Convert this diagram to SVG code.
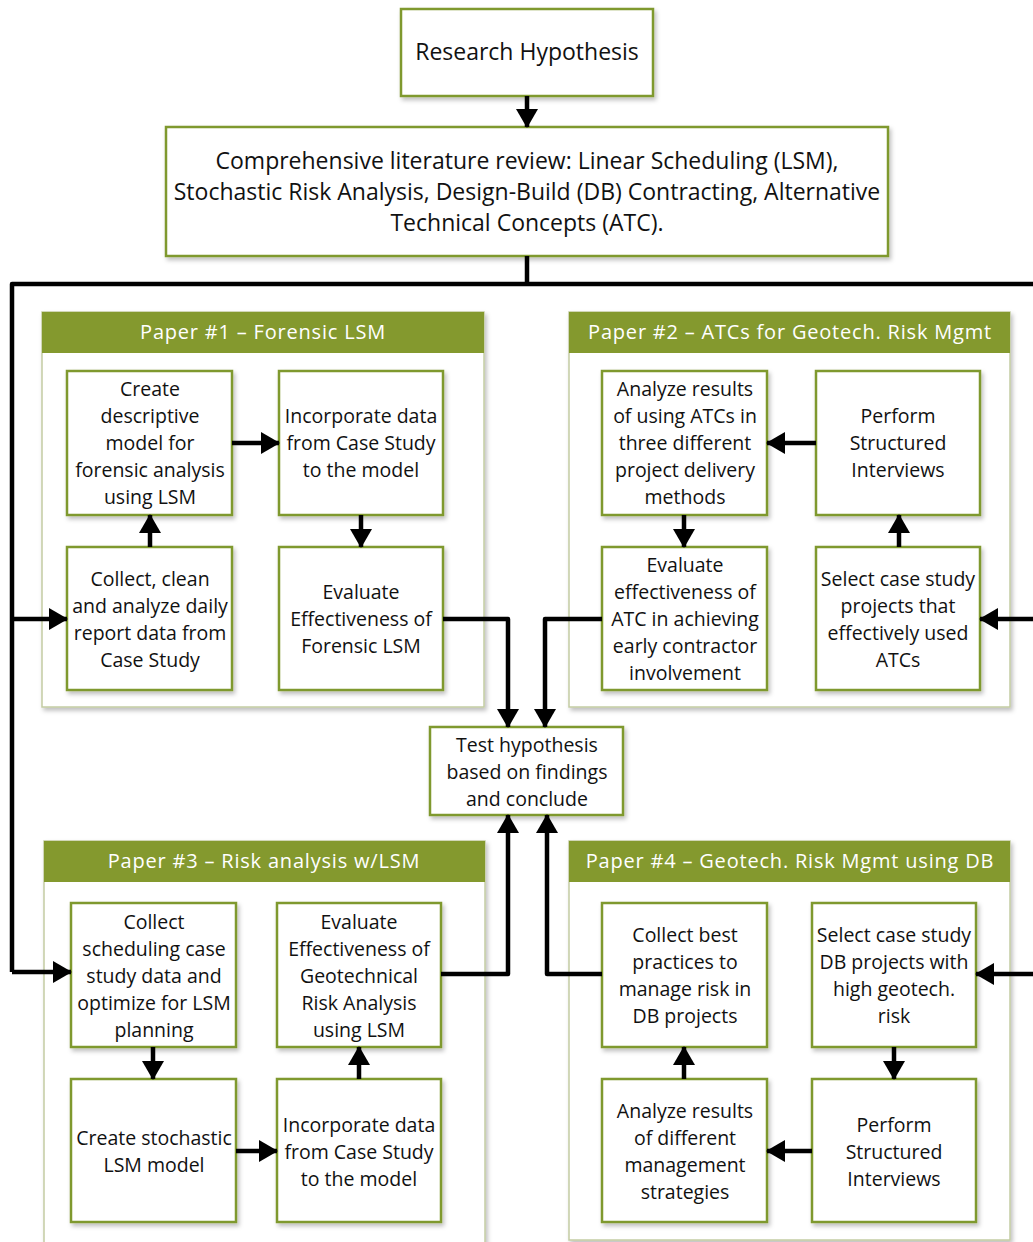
<svg xmlns="http://www.w3.org/2000/svg" width="1033" height="1242" viewBox="0 0 1033 1242">
<style>
.box{fill:#fff;stroke:#7f992d;stroke-width:2.5;filter:url(#sh)}
.panel{fill:#fff;stroke:#c3cca3;stroke-width:1.5;filter:url(#sh)}
.hdr{fill:#84992e}
.t{font-family:"Open Sans","Noto Sans",sans-serif;font-size:19.5px;fill:#111;text-anchor:middle}
.tb{font-family:"Open Sans","Noto Sans",sans-serif;font-size:23px;fill:#111;text-anchor:middle}
.th{font-family:"Open Sans","Noto Sans",sans-serif;font-size:20px;fill:#fff;text-anchor:middle;letter-spacing:0.8px}
.c{fill:none;stroke:#000;stroke-width:4.5;stroke-linejoin:round}
.ca{fill:none;stroke:#000;stroke-width:4.5;stroke-linejoin:round;marker-end:url(#ah)}
</style>
<defs>
<filter id="sh" x="-10%" y="-10%" width="120%" height="120%">
<feDropShadow dx="2" dy="3" stdDeviation="2" flood-color="#000" flood-opacity="0.25"/>
</filter>
<marker id="ah" markerUnits="userSpaceOnUse" markerWidth="20" markerHeight="22" refX="18" refY="11" orient="auto">
<path d="M0,0 L19,11 L0,22 Z" fill="#000"/>
</marker>
</defs>
<rect width="1033" height="1242" fill="#fff"/>

<g id="n-hyp"><rect class="box" x="401" y="9" width="252" height="87"/>
<text class="tb" x="527" y="60">Research Hypothesis</text></g>

<g id="n-lit"><rect class="box" x="166" y="127" width="722" height="129"/>
<text class="tb" x="527" y="169">Comprehensive literature review: Linear Scheduling (LSM),</text>
<text class="tb" x="527" y="200">Stochastic Risk Analysis, Design-Build (DB) Contracting, Alternative</text>
<text class="tb" x="527" y="231">Technical Concepts (ATC).</text></g>

<g id="p1"><rect class="panel" x="42" y="312" width="442" height="395"/>
<rect class="hdr" x="42" y="312" width="442" height="41"/>
<text class="th" x="263" y="339">Paper #1 – Forensic LSM</text></g>
<g id="p2"><rect class="panel" x="569" y="312" width="441" height="395"/>
<rect class="hdr" x="569" y="312" width="441" height="41"/>
<text class="th" x="790" y="339">Paper #2 – ATCs for Geotech. Risk Mgmt</text></g>
<g id="p3"><rect class="panel" x="44" y="841" width="441" height="410"/>
<rect class="hdr" x="44" y="841" width="441" height="41"/>
<text class="th" x="264" y="868">Paper #3 – Risk analysis w/LSM</text></g>
<g id="p4"><rect class="panel" x="569" y="841" width="441" height="399"/>
<rect class="hdr" x="569" y="841" width="441" height="41"/>
<text class="th" x="790" y="868">Paper #4 – Geotech. Risk Mgmt using DB</text></g>

<g id="n1a"><rect class="box" x="67" y="371" width="165" height="144"/>
<text class="t" x="150" y="396">Create</text><text class="t" x="150" y="423">descriptive</text><text class="t" x="150" y="450">model for</text><text class="t" x="150" y="477">forensic analysis</text><text class="t" x="150" y="504">using LSM</text></g>
<g id="n1b"><rect class="box" x="279" y="371" width="164" height="144"/>
<text class="t" x="361" y="423">Incorporate data</text><text class="t" x="361" y="450">from Case Study</text><text class="t" x="361" y="477">to the model</text></g>
<g id="n1c"><rect class="box" x="67" y="547" width="165" height="143"/>
<text class="t" x="150" y="586">Collect, clean</text><text class="t" x="150" y="613">and analyze daily</text><text class="t" x="150" y="640">report data from</text><text class="t" x="150" y="667">Case Study</text></g>
<g id="n1d"><rect class="box" x="279" y="547" width="164" height="143"/>
<text class="t" x="361" y="599">Evaluate</text><text class="t" x="361" y="626">Effectiveness of</text><text class="t" x="361" y="653">Forensic LSM</text></g>

<g id="n2a"><rect class="box" x="602" y="371" width="165" height="144"/>
<text class="t" x="685" y="396">Analyze results</text><text class="t" x="685" y="423">of using ATCs in</text><text class="t" x="685" y="450">three different</text><text class="t" x="685" y="477">project delivery</text><text class="t" x="685" y="504">methods</text></g>
<g id="n2b"><rect class="box" x="816" y="371" width="164" height="144"/>
<text class="t" x="898" y="423">Perform</text><text class="t" x="898" y="450">Structured</text><text class="t" x="898" y="477">Interviews</text></g>
<g id="n2c"><rect class="box" x="602" y="547" width="165" height="143"/>
<text class="t" x="685" y="572">Evaluate</text><text class="t" x="685" y="599">effectiveness of</text><text class="t" x="685" y="626">ATC in achieving</text><text class="t" x="685" y="653">early contractor</text><text class="t" x="685" y="680">involvement</text></g>
<g id="n2d"><rect class="box" x="816" y="547" width="164" height="143"/>
<text class="t" x="898" y="586">Select case study</text><text class="t" x="898" y="613">projects that</text><text class="t" x="898" y="640">effectively used</text><text class="t" x="898" y="667">ATCs</text></g>

<g id="n-test"><rect class="box" x="430" y="727" width="193" height="88"/>
<text class="t" x="527" y="752">Test hypothesis</text><text class="t" x="527" y="779">based on findings</text><text class="t" x="527" y="806">and conclude</text></g>

<g id="n3a"><rect class="box" x="71" y="903" width="165" height="144"/>
<text class="t" x="154" y="929">Collect</text><text class="t" x="154" y="956">scheduling case</text><text class="t" x="154" y="983">study data and</text><text class="t" x="154" y="1010">optimize for LSM</text><text class="t" x="154" y="1037">planning</text></g>
<g id="n3b"><rect class="box" x="277" y="903" width="164" height="144"/>
<text class="t" x="359" y="929">Evaluate</text><text class="t" x="359" y="956">Effectiveness of</text><text class="t" x="359" y="983">Geotechnical</text><text class="t" x="359" y="1010">Risk Analysis</text><text class="t" x="359" y="1037">using LSM</text></g>
<g id="n3c"><rect class="box" x="71" y="1079" width="165" height="143"/>
<text class="t" x="154" y="1145">Create stochastic</text><text class="t" x="154" y="1172">LSM model</text></g>
<g id="n3d"><rect class="box" x="277" y="1079" width="164" height="143"/>
<text class="t" x="359" y="1132">Incorporate data</text><text class="t" x="359" y="1159">from Case Study</text><text class="t" x="359" y="1186">to the model</text></g>

<g id="n4a"><rect class="box" x="602" y="903" width="165" height="144"/>
<text class="t" x="685" y="942">Collect best</text><text class="t" x="685" y="969">practices to</text><text class="t" x="685" y="996">manage risk in</text><text class="t" x="685" y="1023">DB projects</text></g>
<g id="n4b"><rect class="box" x="812" y="903" width="164" height="144"/>
<text class="t" x="894" y="942">Select case study</text><text class="t" x="894" y="969">DB projects with</text><text class="t" x="894" y="996">high geotech.</text><text class="t" x="894" y="1023">risk</text></g>
<g id="n4c"><rect class="box" x="602" y="1079" width="165" height="143"/>
<text class="t" x="685" y="1118">Analyze results</text><text class="t" x="685" y="1145">of different</text><text class="t" x="685" y="1172">management</text><text class="t" x="685" y="1199">strategies</text></g>
<g id="n4d"><rect class="box" x="812" y="1079" width="164" height="143"/>
<text class="t" x="894" y="1132">Perform</text><text class="t" x="894" y="1159">Structured</text><text class="t" x="894" y="1186">Interviews</text></g>

<g id="connectors">
<path class="ca" d="M527,96 V127"/>
<path class="c" d="M527,256 V284"/>
<path class="c" d="M1040,284 H12 V972"/>
<path class="ca" d="M12,619 H67"/>
<path class="ca" d="M12,972 H71"/>
<path class="ca" d="M1040,619 H980"/>
<path class="ca" d="M1040,974 H976"/>
<path class="ca" d="M232,443 H279"/>
<path class="ca" d="M361,515 V547"/>
<path class="ca" d="M150,547 V515"/>
<path class="ca" d="M443,619 H508 V727"/>
<path class="ca" d="M816,443 H767"/>
<path class="ca" d="M684,515 V547"/>
<path class="ca" d="M899,547 V515"/>
<path class="ca" d="M602,619 H545 V727"/>
<path class="ca" d="M153,1047 V1079"/>
<path class="ca" d="M236,1151 H277"/>
<path class="ca" d="M359,1079 V1047"/>
<path class="ca" d="M441,974 H508 V815"/>
<path class="ca" d="M894,1047 V1079"/>
<path class="ca" d="M812,1151 H767"/>
<path class="ca" d="M684,1079 V1047"/>
<path class="ca" d="M602,974 H547 V815"/>
</g>
</svg>
